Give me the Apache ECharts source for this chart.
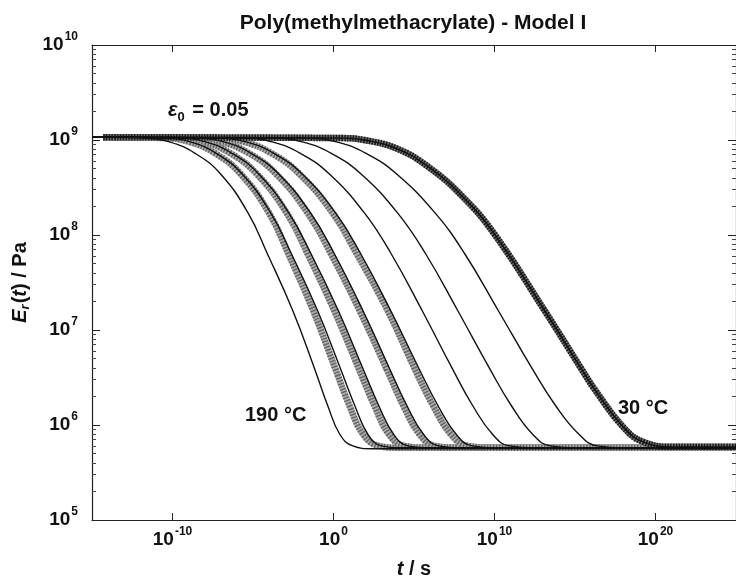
<!DOCTYPE html>
<html><head><meta charset="utf-8">
<script src="https://cdn.jsdelivr.net/npm/echarts@6/dist/echarts.min.js"></script>
<style>html,body{margin:0;padding:0;background:#fff}#c{width:736px;height:584px}</style>
</head><body><div id="c"></div>
<script>
// Each point: [log10(t / s), log10(E_r / Pa)]
const T190 = [[-15,9.03],[-11.7,9.02],[-10.2,8.98],[-8.6,8.86],[-7.0,8.64],[-5.3,8.23],[-4.1,7.80],[-2.52,7.20],[-1.17,6.59],[-0.35,6.20],[0.4,5.90],[1.2,5.78],[2.4,5.75],[25,5.75]];
const T170 = [[-15,9.03],[-10.45,9.02],[-8.89,8.98],[-7.29,8.86],[-5.66,8.64],[-3.89,8.23],[-2.61,7.80],[-0.98,7.20],[0.44,6.59],[1.33,6.20],[2.14,5.90],[2.98,5.78],[4.2,5.76],[25,5.76]];
const T150 = [[-15,9.03],[-9.57,9.02],[-7.95,8.98],[-6.31,8.86],[-4.63,8.64],[-2.77,8.23],[-1.39,7.80],[0.31,7.20],[1.84,6.59],[2.82,6.20],[3.74,5.90],[4.62,5.78],[6.0,5.76],[25,5.76]];
const T130 = [[-15,9.03],[-8.48,9.02],[-6.80,8.98],[-5.12,8.86],[-3.39,8.64],[-1.42,8.23],[0.06,7.80],[1.84,7.20],[3.49,6.59],[4.57,6.20],[5.60,5.90],[6.53,5.78],[8.0,5.76],[25,5.76]];
const T110 = [[-15,9.03],[-7.17,9.02],[-5.43,8.98],[-3.71,8.86],[-1.93,8.64],[0.14,8.23],[1.70,7.80],[3.56,7.20],[5.32,6.59],[6.50,6.20],[7.63,5.90],[8.61,5.78],[10.2,5.76],[25,5.76]];
const T90  = [[-15,9.03],[-5.62,9.02],[-3.82,8.98],[-2.06,8.86],[-0.24,8.64],[1.93,8.23],[3.59,7.80],[5.52,7.20],[7.39,6.59],[8.66,6.20],[9.89,5.90],[10.92,5.78],[12.6,5.76],[25,5.76]];
const T70  = [[-15,9.03],[-3.78,9.02],[-1.94,8.98],[-0.14,8.86],[1.73,8.64],[3.99,8.23],[5.73,7.80],[7.73,7.20],[9.71,6.59],[11.06,6.20],[12.38,5.90],[13.46,5.78],[15.2,5.76],[25,5.76]];
const T50  = [[-15,9.03],[-1.74,9.02],[0.18,8.98],[2.02,8.86],[3.94,8.64],[6.32,8.23],[8.16,7.80],[10.25,7.20],[12.35,6.59],[13.81,6.20],[15.26,5.90],[16.39,5.78],[18.2,5.76],[25,5.76]];
const T30  = [[-15,9.03],[0.5,9.02],[1.9,9.00],[3.93,8.91],[5.95,8.71],[8.04,8.40],[9.95,8.02],[13.13,7.20],[15.4,6.59],[16.2,6.38],[18.04,5.97],[19.27,5.82],[21.1,5.77],[25,5.77]];

// marker (symbol) curves
const M170 = [[-14.3,9.03],[-10.5,9.02],[-8.95,8.98],[-7.35,8.86],[-5.75,8.64],[-4.0,8.23],[-2.8,7.80],[-1.25,7.20],[0.12,6.59],[1.0,6.20],[1.85,5.90],[2.8,5.78],[4.0,5.76],[25,5.76]];
const M150 = [[-14.3,9.03],[-9.65,9.02],[-8.05,8.98],[-6.4,8.86],[-4.75,8.64],[-2.9,8.23],[-1.6,7.80],[0.06,7.20],[1.58,6.59],[2.55,6.20],[3.45,5.90],[4.4,5.78],[5.8,5.76],[25,5.76]];
const M130 = [[-14.3,9.03],[-8.6,9.02],[-6.95,8.98],[-5.25,8.86],[-3.55,8.64],[-1.6,8.23],[-0.15,7.80],[1.64,7.20],[3.3,6.59],[4.35,6.20],[5.35,5.90],[6.3,5.78],[7.8,5.76],[25,5.76]];
const M110 = [[-14.3,9.03],[-7.3,9.02],[-5.55,8.98],[-3.85,8.86],[-2.1,8.64],[-0.05,8.23],[1.45,7.80],[3.38,7.20],[5.05,6.59],[6.2,6.20],[7.3,5.90],[8.35,5.78],[10.0,5.76],[25,5.76]];
const M30  = [[-14.3,9.03],[0.5,9.02],[1.9,9.00],[3.93,8.91],[5.95,8.71],[8.04,8.40],[9.95,8.02],[13.13,7.20],[15.4,6.59],[16.2,6.38],[18.04,5.97],[19.27,5.82],[21.1,5.77],[25,5.77]];

const xTicks = [1e-10, 1, 1e10, 1e20];
const yTicks = [1e5, 1e6, 1e7, 1e8, 1e9, 1e10];
const yMinor = [];
for (let d = 5; d < 10; d++) for (let m = 2; m <= 9; m++) yMinor.push(m * Math.pow(10, d));

const FONT = "'Liberation Sans', Arial, Helvetica, sans-serif";
const toData = arr => arr.map(p => [Math.pow(10, p[0]), Math.pow(10, p[1])]);

const lineCurves = [T190, T170, T150, T130, T110, T90, T70, T50, T30];
const markCurves = [M170, M150, M130, M110];

const series = [];
const lineSeries = (c, ls, z) => ({
  type: 'line', data: toData(c), showSymbol: false, smooth: 0.45, lineStyle: ls, z: z, silent: true
});
markCurves.forEach(c => {
  series.push(lineSeries(c, { color: '#ababab', width: 6.5 }, 2));
  series.push(lineSeries(c, { color: '#626262', width: 6.5, type: [1.3, 1.7] }, 2));
});
series.push(lineSeries(M30, { color: '#707070', width: 6.5 }, 3));
series.push(lineSeries(M30, { color: '#202020', width: 6.5, type: [1.5, 1.3] }, 3));
lineCurves.forEach(c => series.push(lineSeries(c, { color: '#111', width: 1.4 }, 4)));

const labRich = {
  b: { fontSize: 19, fontWeight: 'bold', fontFamily: FONT, color: '#111' },
  e: { fontSize: 12, fontWeight: 'bold', fontFamily: FONT, color: '#111', padding: [0, 0, 16, 1] }
};
const fmt = v => '{b|10}{e|' + Math.round(Math.log10(v)) + '}';

const axisCommon = {
  type: 'log', logBase: 10,
  axisLine: { show: true, lineStyle: { color: '#222', width: 1.2 } },
  splitLine: { show: false }
};

const option = {
  animation: false,
  backgroundColor: '#fff',
  grid: { left: 92, right: -7, top: 45, bottom: 49, containLabel: false },
  xAxis: [
    Object.assign({}, axisCommon, {
      min: 1e-15, max: 1e25, position: 'bottom',
      axisTick: { inside: true, length: 7, customValues: xTicks, lineStyle: { color: '#222' } },
      axisLabel: { customValues: xTicks, formatter: fmt, rich: labRich, margin: 6 },
      name: '{i|t}{n| / s}', nameLocation: 'middle', nameGap: 39,
      nameTextStyle: { rich: {
        i: { fontSize: 20, fontWeight: 'bold', fontStyle: 'italic', fontFamily: FONT, color: '#111' },
        n: { fontSize: 20, fontWeight: 'bold', fontFamily: FONT, color: '#111' } } }
    }),
    Object.assign({}, axisCommon, {
      min: 1e-15, max: 1e25, position: 'top',
      axisTick: { inside: true, length: 7, customValues: xTicks, lineStyle: { color: '#222' } },
      axisLabel: { show: false }
    })
  ],
  yAxis: [
    Object.assign({}, axisCommon, {
      min: 1e5, max: 1e10, position: 'left',
      axisTick: { inside: true, length: 8, customValues: yTicks, lineStyle: { color: '#222' } },
      axisLabel: { customValues: yTicks, formatter: fmt, rich: labRich, margin: 14 },
      name: '{i|E}{s|r}{n|(}{i|t}{n|) / Pa}', nameLocation: 'middle', nameGap: 59, nameRotate: 90,
      nameTextStyle: { rich: {
        i: { fontSize: 20, fontWeight: 'bold', fontStyle: 'italic', fontFamily: FONT, color: '#111' },
        s: { fontSize: 13, fontWeight: 'bold', fontStyle: 'italic', fontFamily: FONT, color: '#111', padding: [10, 1, 0, 0] },
        n: { fontSize: 20, fontWeight: 'bold', fontFamily: FONT, color: '#111' } } }
    }),
    Object.assign({}, axisCommon, {
      min: 1e5, max: 1e10, position: 'left',
      axisLine: { show: false },
      axisTick: { inside: true, length: 4, customValues: yMinor, lineStyle: { color: '#444' } },
      axisLabel: { show: false }
    }),
    Object.assign({}, axisCommon, {
      min: 1e5, max: 1e10, position: 'right',
      axisTick: { inside: true, length: 8, customValues: yTicks, lineStyle: { color: '#222' } },
      axisLabel: { show: false }
    }),
    Object.assign({}, axisCommon, {
      min: 1e5, max: 1e10, position: 'right',
      axisLine: { show: false },
      axisTick: { inside: true, length: 4, customValues: yMinor, lineStyle: { color: '#444' } },
      axisLabel: { show: false }
    })
  ],
  series: series,
  graphic: [
    { type: 'text', x: 413, y: 23, z: 10, style: {
      text: 'Poly(methylmethacrylate) - Model I', align: 'center', verticalAlign: 'middle',
      font: "bold 21px " + FONT, fill: '#111' } },
    { type: 'text', x: 168, y: 110, z: 10, style: {
      text: '{g|ε}{s|0}{n| = 0.05}', verticalAlign: 'middle',
      rich: {
        g: { fontSize: 20, fontStyle: 'italic', fontWeight: 'bold', fontFamily: FONT, fill: '#111' },
        s: { fontSize: 13, fontWeight: 'bold', fontFamily: FONT, fill: '#111', padding: [14, 2, 0, 0] },
        n: { fontSize: 20, fontWeight: 'bold', fontFamily: FONT, fill: '#111' } } } },
    { type: 'text', x: 245, y: 415, z: 10, style: {
      text: '190 °C', verticalAlign: 'middle', font: "bold 20px " + FONT, fill: '#111' } },
    { type: 'text', x: 618, y: 408, z: 10, style: {
      text: '30 °C', verticalAlign: 'middle', font: "bold 20px " + FONT, fill: '#111' } }
  ]
};

const chart = echarts.init(document.getElementById('c'), null, { renderer: 'canvas' });
chart.setOption(option);
</script>
</body></html>
